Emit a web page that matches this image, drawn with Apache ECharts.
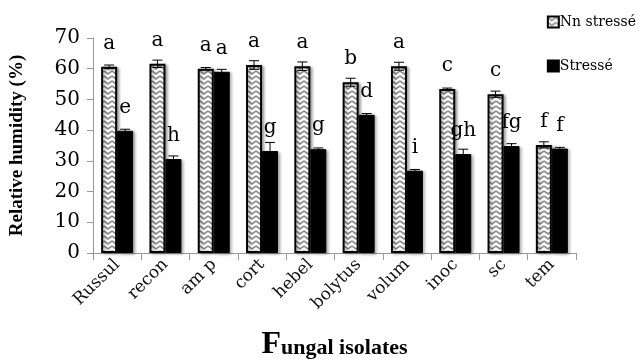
<!DOCTYPE html>
<html><head><meta charset="utf-8">
<script src="https://cdn.jsdelivr.net/npm/echarts@6/dist/echarts.min.js"></script>
<style>html,body{margin:0;padding:0;background:#fff}#c{width:641px;height:360px}</style>
</head><body><div id="c"></div>
<script>
const categories = ['Russul','recon','am p','cort','hebel','bolytus','volum','inoc','sc','tem'];
const nonStressed = [60.6, 61.6, 60.0, 61.2, 60.8, 55.6, 60.8, 53.4, 51.7, 35.2];
const nonStressedErr = [0.6, 1.2, 0.4, 1.4, 1.4, 1.3, 1.3, 0.3, 1.0, 1.0];
const stressed = [39.8, 30.6, 59.0, 33.2, 33.8, 45.0, 26.8, 32.2, 34.8, 34.0];
const stressedErr = [0.5, 1.0, 0.8, 2.8, 0.4, 0.4, 0.4, 1.6, 0.8, 0.4];
const nonLetters = ['a','a','a','a','a','b','a','c','c','f'];
const strLetters = ['e','h','a','g','g','d','i','gh','fg','f'];
const yTicks = [0,10,20,30,40,50,60,70];

const FONT = 'DejaVu Serif';
// chevron pattern
const pc = document.createElement('canvas');
pc.width = 8; pc.height = 5;
const g = pc.getContext('2d');
g.fillStyle = '#ffffff'; g.fillRect(0,0,8,5);
g.strokeStyle = '#8c8c8c'; g.lineWidth = 1.6;
g.beginPath(); g.moveTo(0,1); g.lineTo(4,4); g.lineTo(8,1); g.stroke();
const pattern = {image: pc, repeat: 'repeat'};

const chart = echarts.init(document.getElementById('c'));
const BW = 16;
function errSeries(vals, errs, side) {
  return {
    type: 'custom', z: 5,
    data: vals.map((v,i)=>[i, v, errs[i]]),
    renderItem: function(params, api) {
      const i = api.value(0), v = api.value(1), e = api.value(2);
      const top = api.coord([i, v + e]);
      const bot = api.coord([i, v - e]);
      const x = top[0] + side * BW/2;
      return {type:'group', children:[
        {type:'line', shape:{x1:x, y1:top[1], x2:x, y2:bot[1]}, style:{stroke:'#000', lineWidth:1}},
        {type:'line', shape:{x1:x-5, y1:top[1], x2:x+5, y2:top[1]}, style:{stroke:'#000', lineWidth:1}},
        {type:'line', shape:{x1:x-5, y1:bot[1], x2:x+5, y2:bot[1]}, style:{stroke:'#000', lineWidth:1}}
      ]};
    },
    silent: true, tooltip: {show:false}
  };
}
const labelBase = {show:true, position:'top', distance: 13, fontFamily: FONT, fontSize: 20, color:'#000'};
chart.setOption({
  animation: false,
  grid: {left: 93, right: 65, top: 38, bottom: 107, containLabel: false, outerBoundsMode: 'none'},
  legend: {
    orient: 'vertical', right: 0, top: 10, itemGap: 30,
    itemWidth: 11, itemHeight: 11, icon: 'rect',
    textStyle: {fontFamily: FONT, fontSize: 14, color:'#000', padding:[0,0,0,-4]},
    data: ['Nn stressé', 'Stressé']
  },
  xAxis: {
    type: 'category', data: categories,
    axisLine: {lineStyle: {color:'#999', width:1}},
    axisTick: {show:true, length: 7, lineStyle:{color:'#999'}},
    axisLabel: {rotate: 45, fontFamily: FONT, fontSize: 17, color:'#111', margin: 9, interval:0},
    name: '{big|F}{rest|ungal isolates}', nameLocation: 'middle', nameGap: 76,
    nameTextStyle: {rich: {
      big: {fontFamily: 'Liberation Serif', fontSize: 32, fontWeight:'bold', color:'#000'},
      rest: {fontFamily: 'Liberation Serif', fontSize: 22, fontWeight:'bold', color:'#000', padding:[6,0,0,0]}
    }}
  },
  yAxis: {
    type: 'value', min: 0, max: 70, interval: 10,
    splitLine: {show:false},
    axisLine: {show:true, lineStyle: {color:'#999'}},
    axisTick: {show:true, length: 6, lineStyle:{color:'#999'}},
    axisLabel: {fontFamily: FONT, fontSize: 20, color:'#000', margin: 13,
      formatter: v => yTicks.includes(v) ? String(v) : ''},
    name: 'Relative humidity (%)', nameLocation: 'middle', nameGap: 66,
    nameTextStyle: {fontFamily: 'Liberation Serif', fontSize: 19, fontWeight:'bold', color:'#000'}
  },
  series: [
    {name:'Nn stressé', type:'bar', data: nonStressed, barWidth: BW, barGap: '0%',
     itemStyle:{color: pattern, borderColor:'#000', borderWidth: 2,
       shadowBlur: 3, shadowColor:'rgba(0,0,0,0.35)', shadowOffsetX: 2, shadowOffsetY: 1},
     label: Object.assign({}, labelBase, {formatter: p => nonLetters[p.dataIndex]})},
    {name:'Stressé', type:'bar', data: stressed, barWidth: BW,
     itemStyle:{color:'#000', borderColor:'#000', borderWidth: 1,
       shadowBlur: 3, shadowColor:'rgba(0,0,0,0.35)', shadowOffsetX: 2, shadowOffsetY: 1},
     label: Object.assign({}, labelBase, {formatter: p => strLetters[p.dataIndex]})},
    errSeries(nonStressed, nonStressedErr, -1),
    errSeries(stressed, stressedErr, 1)
  ]
});
</script></body></html>
